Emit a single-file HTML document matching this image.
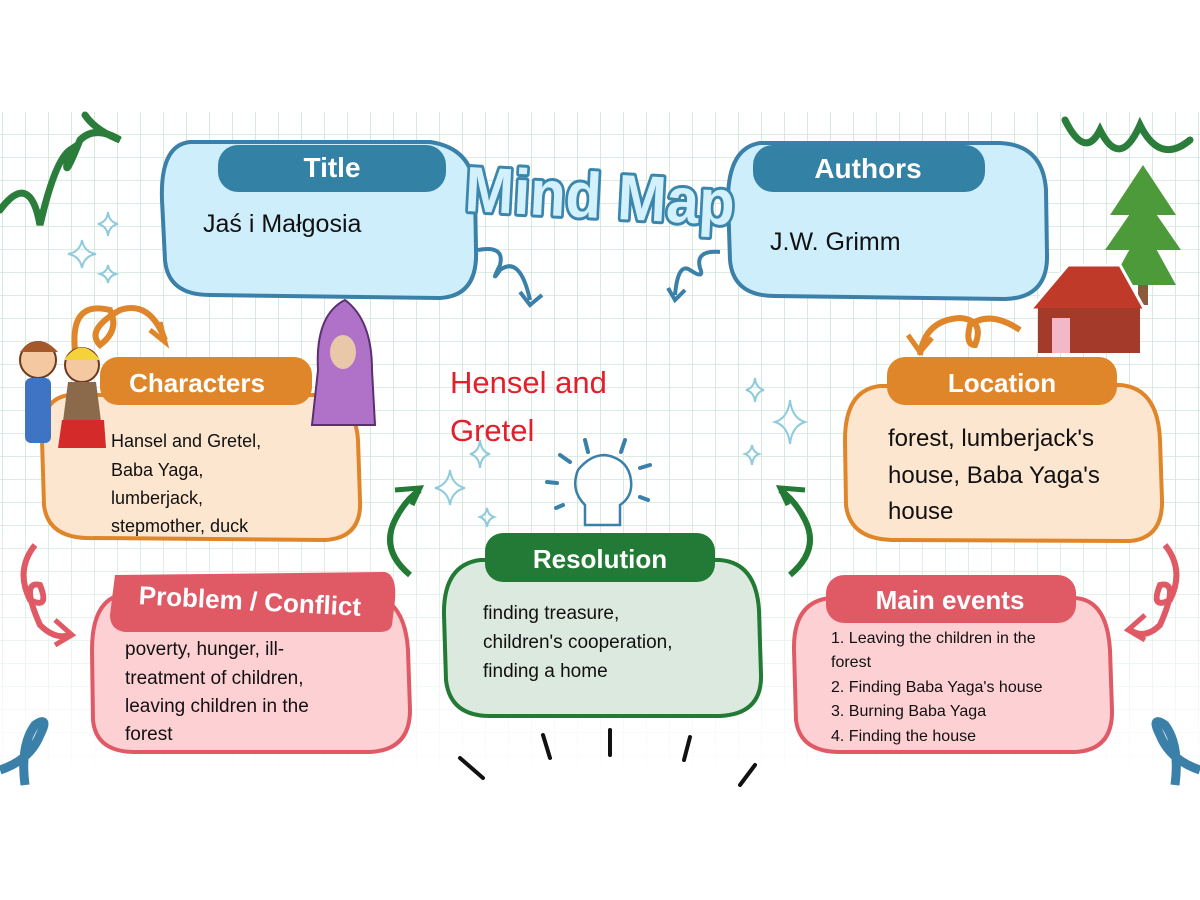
<!DOCTYPE html>
<html><head><meta charset="utf-8">
<style>
html,body{margin:0;padding:0;background:#fff;}
svg{display:block;}
text{font-family:"Liberation Sans",sans-serif;}
.hd{font-weight:bold;fill:#fff;text-anchor:middle;}
.bd{fill:#111;}
</style></head>
<body>
<svg width="1200" height="900" viewBox="0 0 1200 900" xmlns="http://www.w3.org/2000/svg">
<defs>
<pattern id="g" width="23" height="23" patternUnits="userSpaceOnUse" x="3" y="112">
<path d="M23 0V23M0 23H23" stroke="#cfe5d9" stroke-width="1.6" fill="none"/>
</pattern>
<linearGradient id="fade" x1="0" y1="0" x2="0" y2="1">
<stop offset="0" stop-color="#fff" stop-opacity="1"/>
<stop offset="0.6" stop-color="#fff" stop-opacity="1"/>
<stop offset="1" stop-color="#fff" stop-opacity="0"/>
</linearGradient>
<mask id="m"><rect x="0" y="112" width="1200" height="676" fill="url(#fade)"/></mask>
</defs>
<rect x="0" y="112" width="1200" height="676" fill="url(#g)" mask="url(#m)"/>

<!-- green leaf squiggles top -->
<path d="M0 210 Q30 170 40 225 Q55 160 70 150 Q60 190 80 140 Q95 125 120 140 Q95 130 85 115" stroke="#2a7d3a" stroke-width="7" fill="none" stroke-linecap="round"/>
<path d="M1065 120 Q1085 160 1100 130 Q1120 170 1140 125 Q1160 165 1190 140" stroke="#2a7d3a" stroke-width="7" fill="none" stroke-linecap="round"/>

<!-- Title box -->
<path d="M190 142 Q160 145 162 200 L165 260 Q168 295 210 295 L440 298 Q478 296 476 250 L475 190 Q472 148 430 142 Z" fill="#cfeefc" stroke="#3a80a8" stroke-width="4"/>
<rect x="218" y="145" width="228" height="47" rx="20" fill="#3481a6"/>
<text x="332" y="177" class="hd" font-size="28">Title</text>
<text x="203" y="232" class="bd" font-size="25">Jaś i Małgosia</text>

<!-- Authors box -->
<path d="M760 143 Q728 148 728 200 L730 260 Q733 296 775 296 L1005 299 Q1048 298 1047 255 L1046 190 Q1043 145 1000 143 Z" fill="#cfeefc" stroke="#3a80a8" stroke-width="4"/>
<rect x="753" y="145" width="232" height="47" rx="20" fill="#3481a6"/>
<text x="868" y="178" class="hd" font-size="28">Authors</text>
<text x="770" y="250" class="bd" font-size="25">J.W. Grimm</text>

<!-- Mind Map -->
<text x="600" y="218" text-anchor="middle" font-size="64" font-weight="bold" fill="#d3f0fd" stroke="#3a86ac" stroke-width="6" paint-order="stroke" stroke-linejoin="round" transform="rotate(3 600 195)" textLength="270" lengthAdjust="spacingAndGlyphs">Mind Map</text>

<!-- blue curly arrows -->
<path d="M478 250 Q505 245 500 265 Q490 285 500 270 Q520 255 530 300" stroke="#3a80a8" stroke-width="4" fill="none"/>
<path d="M520 292 L530 305 L542 295" stroke="#3a80a8" stroke-width="4" fill="none"/>
<path d="M720 252 Q695 250 700 268 Q705 280 690 270 Q678 262 675 295" stroke="#3a80a8" stroke-width="4" fill="none"/>
<path d="M668 288 L675 300 L685 290" stroke="#3a80a8" stroke-width="4" fill="none"/>

<!-- sparkles -->
<g fill="none" stroke="#8fcbdc" stroke-width="2">
<path d="M82 240 Q84 252 96 254 Q84 256 82 268 Q80 256 68 254 Q80 252 82 240Z"/>
<path d="M108 212 Q109 222 118 224 Q109 226 108 236 Q107 226 98 224 Q107 222 108 212Z"/>
<path d="M108 265 Q109 272 116 274 Q109 276 108 283 Q107 276 100 274 Q107 272 108 265Z"/>
<path d="M450 470 Q452 485 465 488 Q452 491 450 505 Q448 491 435 488 Q448 485 450 470Z"/>
<path d="M480 440 Q481 452 490 454 Q481 456 480 468 Q479 456 470 454 Q479 452 480 440Z"/>
<path d="M487 508 Q488 515 494 517 Q488 519 487 527 Q486 519 480 517 Q486 515 487 508Z"/>
<path d="M790 400 Q792 418 805 422 Q792 426 790 444 Q788 426 775 422 Q788 418 790 400Z"/>
<path d="M755 378 Q756 388 764 390 Q756 392 755 402 Q754 392 746 390 Q754 388 755 378Z"/>
<path d="M752 445 Q753 452 759 454 Q753 456 752 465 Q751 456 745 454 Q751 452 752 445Z"/>
</g>

<!-- Characters -->
<path d="M70 395 Q40 398 42 440 L44 505 Q48 540 95 538 L325 540 Q362 538 360 500 L358 440 Q355 398 320 395 Z" fill="#fde6cf" stroke="#e0862a" stroke-width="4"/>
<rect x="100" y="357" width="212" height="48" rx="18" fill="#e0862a"/>
<text x="197" y="392" class="hd" font-size="26">Characters</text>
<g class="bd" font-size="18">
<text x="111" y="447">Hansel and Gretel,</text>
<text x="111" y="476">Baba Yaga,</text>
<text x="111" y="504">lumberjack,</text>
<text x="111" y="532">stepmother, duck</text>
</g>
<path d="M75 350 Q70 300 110 310 Q120 330 100 345 Q85 330 120 310 Q150 300 165 340" stroke="#e0862a" stroke-width="6" fill="none"/>
<path d="M150 330 L165 342 L160 322" stroke="#e0862a" stroke-width="5" fill="none"/>
<!-- kids -->
<circle cx="38" cy="360" r="18" fill="#f4c8a0" stroke="#6b3a20" stroke-width="2"/>
<path d="M20 352 Q38 330 58 352" fill="#a5582a"/>
<rect x="25" y="378" width="26" height="65" rx="6" fill="#3f73c4"/>
<circle cx="82" cy="365" r="17" fill="#f4c8a0" stroke="#6b3a20" stroke-width="2"/>
<path d="M64 360 Q82 335 100 360" fill="#f3d23a"/>
<path d="M68 382 L96 382 L104 445 L60 445 Z" fill="#8a6a4a"/>
<path d="M62 420 L104 420 L106 448 L58 448 Z" fill="#d42a2a"/>
<!-- witch -->
<path d="M345 300 Q315 315 318 370 L312 425 L375 425 L372 370 Q372 320 345 300Z" fill="#b072c8" stroke="#5a3070" stroke-width="2"/>
<ellipse cx="343" cy="352" rx="13" ry="17" fill="#e8c8a8"/>

<!-- Hensel and Gretel -->
<text x="450" y="393" font-size="31" fill="#e2202c">Hensel and</text>
<text x="450" y="441" font-size="31" fill="#e2202c">Gretel</text>

<!-- Location -->
<path d="M880 386 Q845 390 845 440 L846 505 Q850 540 895 540 L1130 541 Q1163 538 1162 500 L1160 440 Q1158 388 1120 385 Z" fill="#fde6cf" stroke="#e0862a" stroke-width="4"/>
<rect x="887" y="357" width="230" height="48" rx="18" fill="#e0862a"/>
<text x="1002" y="392" class="hd" font-size="26">Location</text>
<g class="bd" font-size="24">
<text x="888" y="446">forest, lumberjack's</text>
<text x="888" y="483">house, Baba Yaga's</text>
<text x="888" y="519">house</text>
</g>
<path d="M920 355 Q925 320 960 318 Q985 320 975 345 Q965 345 970 325 Q990 310 1020 330" stroke="#e0862a" stroke-width="6" fill="none"/>
<path d="M908 335 L920 352 L932 338" stroke="#e0862a" stroke-width="5" fill="none"/>
<!-- tree -->
<rect x="1138" y="190" width="10" height="115" fill="#8a5a3a"/>
<path d="M1143 165 L1110 215 L1176 215Z M1143 195 L1105 250 L1181 250Z M1143 225 L1110 285 L1176 285Z" fill="#4d9a3a"/>
<!-- house -->
<path d="M1030 310 L1068 265 L1120 265 L1145 310Z" fill="#c03a2a" stroke="#fff" stroke-width="3"/>
<rect x="1038" y="308" width="102" height="45" fill="#a33a2a"/>
<rect x="1052" y="318" width="18" height="35" fill="#f2b8c8"/>

<!-- Problem / Conflict -->
<path d="M125 594 Q92 598 92 650 L93 720 Q96 752 135 752 L370 752 Q410 750 410 710 L408 650 Q405 600 370 594 Z" fill="#fdd0d4" stroke="#e05a66" stroke-width="4"/>
<path d="M115 575 L385 572 Q397 575 395 600 L392 625 Q390 632 380 632 L125 632 Q110 630 110 615 Z" fill="#e05a66"/>
<text x="250" y="610" class="hd" font-size="26" transform="rotate(3 250 600)">Problem / Conflict</text>
<g class="bd" font-size="19">
<text x="125" y="655">poverty, hunger, ill-</text>
<text x="125" y="684">treatment of children,</text>
<text x="125" y="712">leaving children in the</text>
<text x="125" y="740">forest</text>
</g>
<path d="M35 545 Q15 570 30 600 Q50 610 40 585 Q20 580 40 625 Q55 640 70 635" stroke="#e05a66" stroke-width="6" fill="none"/>
<path d="M55 620 L72 635 L55 645" stroke="#e05a66" stroke-width="5" fill="none"/>
<path d="M1165 545 Q1185 570 1170 600 Q1150 610 1160 585 Q1180 580 1160 625 Q1145 640 1130 630" stroke="#e05a66" stroke-width="6" fill="none"/>
<path d="M1145 615 L1128 630 L1145 640" stroke="#e05a66" stroke-width="5" fill="none"/>

<!-- Resolution -->
<path d="M480 560 Q443 565 444 615 L446 680 Q450 716 490 716 L720 716 Q762 714 761 675 L759 610 Q756 563 720 560 Z" fill="#dce9de" stroke="#227a35" stroke-width="4"/>
<rect x="485" y="533" width="230" height="49" rx="18" fill="#237a36"/>
<text x="600" y="568" class="hd" font-size="26">Resolution</text>
<g class="bd" font-size="19">
<text x="483" y="619">finding treasure,</text>
<text x="483" y="648">children's cooperation,</text>
<text x="483" y="677">finding a home</text>
</g>
<!-- bulb -->
<path d="M585 525 L585 505 Q570 490 578 470 Q590 455 605 455 Q625 458 630 475 Q635 495 620 505 L620 525Z" fill="none" stroke="#3a80a8" stroke-width="2.5"/>
<g stroke="#3a80a8" stroke-width="4" stroke-linecap="round">
<path d="M585 440 L588 452"/><path d="M625 440 L621 452"/><path d="M560 455 L570 462"/><path d="M650 465 L640 468"/><path d="M547 482 L557 483"/><path d="M648 500 L640 497"/><path d="M556 508 L563 505"/>
</g>
<!-- green arrows -->
<path d="M410 575 Q380 550 395 520 Q405 500 420 490" stroke="#227a35" stroke-width="6" fill="none"/>
<path d="M395 490 L420 488 L412 505" stroke="#227a35" stroke-width="5" fill="none"/>
<path d="M790 575 Q820 550 805 520 Q795 500 780 490" stroke="#227a35" stroke-width="6" fill="none"/>
<path d="M805 490 L780 488 L788 505" stroke="#227a35" stroke-width="5" fill="none"/>

<!-- Main events -->
<path d="M830 598 Q793 602 794 650 L796 720 Q800 752 840 752 L1075 752 Q1113 750 1112 710 L1110 650 Q1107 600 1075 598 Z" fill="#fdd0d4" stroke="#e05a66" stroke-width="4"/>
<rect x="826" y="575" width="250" height="48" rx="18" fill="#e05a66"/>
<text x="950" y="609" class="hd" font-size="26">Main events</text>
<g class="bd" font-size="16">
<text x="831" y="643">1. Leaving the children in the</text>
<text x="831" y="667">forest</text>
<text x="831" y="692">2. Finding Baba Yaga's house</text>
<text x="831" y="716">3. Burning Baba Yaga</text>
<text x="831" y="741">4. Finding the house</text>
</g>

<!-- blue bottom corners -->
<path d="M0 770 Q30 760 40 735 Q50 715 35 725 Q20 745 25 785" stroke="#3a80a8" stroke-width="9" fill="none"/>
<path d="M1200 770 Q1170 760 1160 735 Q1150 715 1165 725 Q1180 745 1175 785" stroke="#3a80a8" stroke-width="9" fill="none"/>

<!-- bottom rays -->
<g stroke="#111" stroke-width="4" stroke-linecap="round">
<path d="M543 735 L550 758"/><path d="M610 730 L610 755"/><path d="M690 737 L684 760"/><path d="M460 758 L483 778"/><path d="M755 765 L740 785"/>
</g>
</svg>
</body></html>
